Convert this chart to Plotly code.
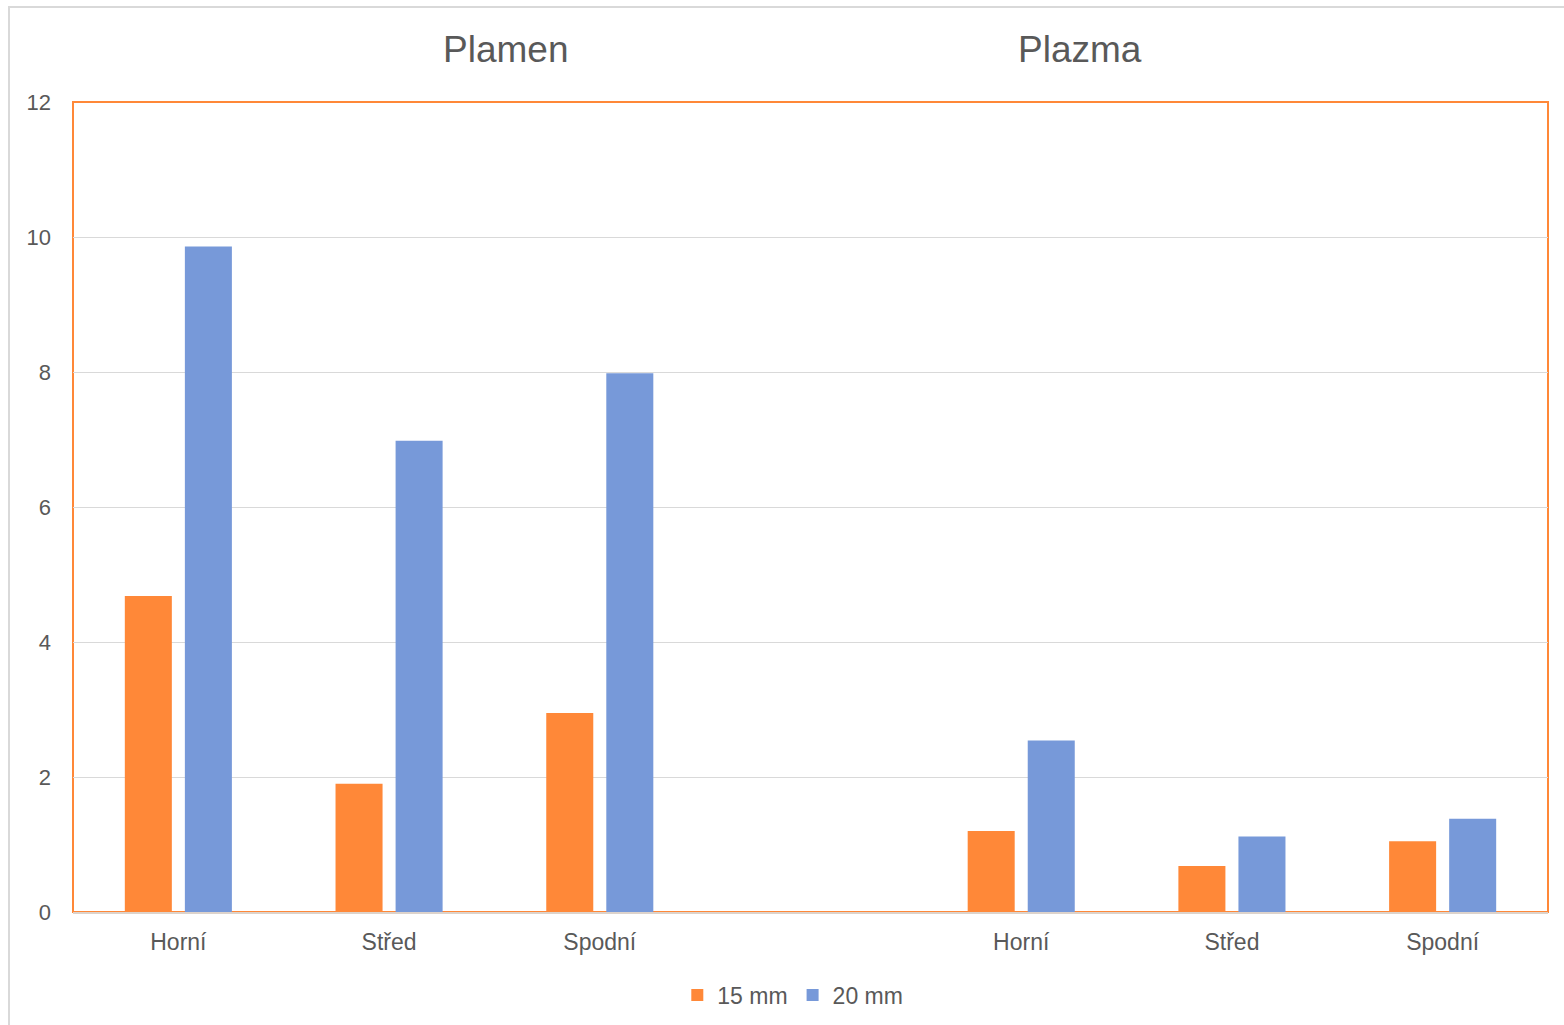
import plotly.graph_objects as go

# Category labels along the x axis (two groups of three, with a spacer slot between)
groups = ["Plamen", "Plazma"]
positions = ["Horní", "Střed", "Spodní"]
series_names = ["15 mm", "20 mm"]

# Values per group: Plamen first, then Plazma
values_15mm = [4.68, 1.90, 2.95, 1.20, 0.68, 1.05]
values_20mm = [9.86, 6.98, 7.98, 2.54, 1.12, 1.38]

colors = ["#FF8838", "#7799D9"]

# slot indices: 0,1,2 for the first group, 4,5,6 for the second (3 is the spacer)
slot_x = [i for i in range(len(positions))] + [i + len(positions) + 1 for i in range(len(positions))]
tick_text = positions + positions

fig = go.Figure()
for name, vals, col in zip(series_names, [values_15mm, values_20mm], colors):
    fig.add_trace(go.Bar(x=slot_x, y=vals, name=name, marker=dict(color=col, line=dict(width=0))))

font_main = "Liberation Sans, Arial, sans-serif"
grey = "#595959"

fig.update_layout(
    width=1564, height=1025,
    margin=dict(l=73, r=16, t=102, b=113, autoexpand=False),
    paper_bgcolor="white", plot_bgcolor="white",
    barmode="group", bargap=0.43, bargroupgap=0.217,
    font=dict(family=font_main, color=grey, size=22),
    showlegend=True,
    legend=dict(orientation="h", x=0.488, xanchor="center", y=-0.076, yanchor="top",
                font=dict(size=23, color=grey), itemwidth=30, traceorder="normal"),
    xaxis=dict(range=[-0.5, 6.5], tickmode="array", tickvals=slot_x, ticktext=tick_text,
               showgrid=False, zeroline=False, showline=True, linecolor="#DDD3CB", linewidth=2,
               ticks="", tickfont=dict(size=23, color=grey), ticklabelstandoff=8),
    yaxis=dict(range=[0, 12], dtick=2, showgrid=True, gridcolor="#D9D9D9", gridwidth=1,
               zeroline=False, showline=False, ticks="", tickfont=dict(size=22, color=grey),
               ticklabelstandoff=21),
    shapes=[
        # orange frame around the plotting area
        dict(type="rect", xref="paper", yref="paper", x0=0, x1=1, y0=0, y1=1,
             line=dict(color="#FF8838", width=2), fillcolor="rgba(0,0,0,0)", layer="below"),
        # light outer chart border
        dict(type="rect", xref="paper", yref="paper",
             x0=-64 / 1475, x1=1.02, y0=-0.2, y1=1 + 95 / 810,
             line=dict(color="#D9D9D9", width=2), fillcolor="rgba(0,0,0,0)", layer="below"),
    ],
    annotations=[
        dict(text=groups[0], xref="paper", yref="paper", x=(505 - 73) / 1475, y=1 + 52 / 810,
             showarrow=False, font=dict(size=37, color=grey), xanchor="center", yanchor="middle"),
        dict(text=groups[1], xref="paper", yref="paper", x=(1080 - 73) / 1475, y=1 + 52 / 810,
             showarrow=False, font=dict(size=37, color=grey), xanchor="center", yanchor="middle"),
    ],
)

fig.write_html("out.html")
